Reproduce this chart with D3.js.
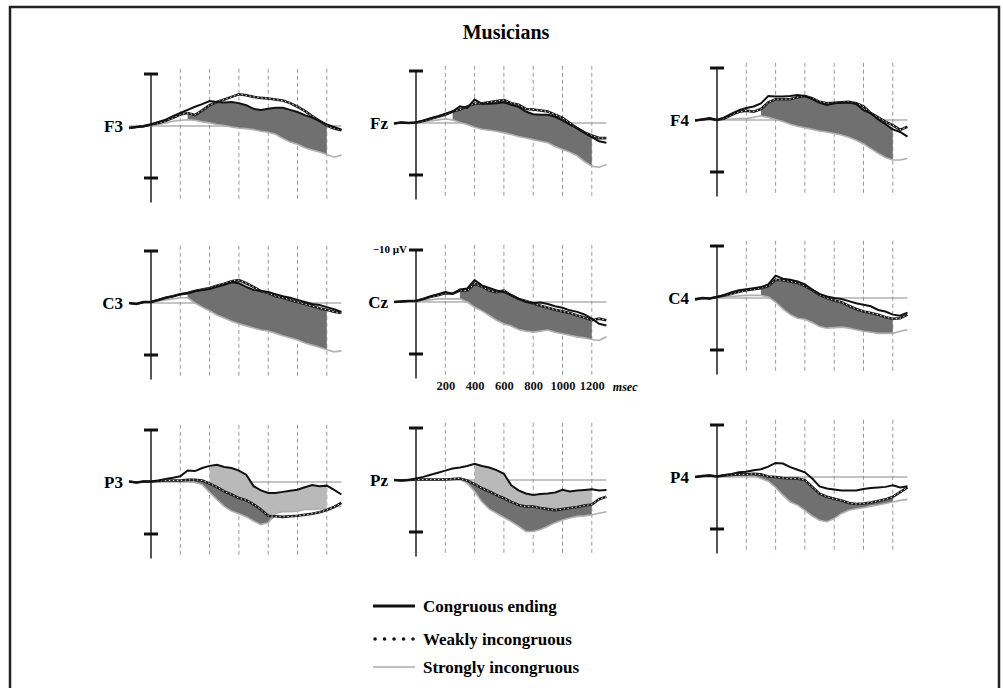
<!DOCTYPE html>
<html>
<head>
<meta charset="utf-8">
<script src="https://cdnjs.cloudflare.com/ajax/libs/d3/7.8.5/d3.min.js"></script>
<style>
  body { margin: 0; background: #fff; }
  svg { display: block; font-family: "Liberation Serif", "Times New Roman", serif; font-weight: bold; }
</style>
</head>
<body>
<div id="chart"></div>
<script>
// sample times (ms) and electrode order
var times = [-150, -100, -50, 0, 50, 100, 150, 200, 250, 300, 350, 400, 450, 500, 550, 600,
             650, 700, 750, 800, 850, 900, 950, 1000, 1050, 1100, 1150, 1200, 1250, 1300];
var electrodes = ["F3", "Fz", "F4", "C3", "Cz", "C4", "P3", "Pz", "P4"];

// amplitudes in microvolts (negative is drawn up)
var congF3 = [0.4, 0.2, 0.1, -0.3, -0.8, -1.2, -1.9, -2.5, -3.1, -3.7, -4.2, -4.8, -4.6, -4.5, -4.6, -4.4, -4.0, -3.3, -3.1, -3.3, -3.5, -3.5, -3.1, -2.7, -2.1, -1.6, -1.0, -0.3, 0.2, 0.7];
var weakF3 = [0.4, 0.2, 0.0, -0.3, -0.6, -1.0, -1.6, -2.2, -2.5, -2.1, -3.0, -4.0, -4.6, -5.1, -5.6, -6.1, -5.9, -5.6, -5.4, -5.3, -5.1, -4.9, -4.4, -3.7, -2.9, -1.9, -1.0, -0.1, 0.5, 0.8];
var strongF3 = [0.4, 0.2, 0.1, -0.1, -0.3, -0.6, -0.9, -1.1, -1.2, -1.1, -0.8, -0.6, -0.3, -0.1, 0.2, 0.4, 0.5, 0.7, 1.0, 1.2, 1.6, 2.4, 3.1, 3.5, 4.2, 4.6, 5.0, 5.5, 6.0, 5.6];

var congFz = [0.1, -0.1, 0.0, -0.1, -0.5, -0.9, -1.3, -1.8, -2.2, -3.2, -2.9, -4.5, -3.7, -3.7, -3.8, -4.0, -3.5, -3.1, -2.2, -1.7, -1.6, -1.6, -1.2, -0.5, 0.3, 1.0, 1.9, 2.7, 3.5, 3.8];
var weakFz = [0.1, -0.1, 0.0, -0.1, -0.4, -0.8, -1.2, -1.6, -2.2, -2.6, -3.2, -3.7, -3.8, -4.0, -4.2, -4.4, -3.8, -3.5, -2.7, -2.6, -2.4, -2.2, -1.6, -1.0, 0.0, 1.0, 1.8, 2.4, 2.9, 2.9];
var strongFz = [0.1, -0.1, 0.0, 0.0, -0.3, -0.4, -0.6, -0.8, -0.6, -0.1, 0.3, 0.8, 1.2, 1.4, 1.6, 1.9, 2.2, 2.6, 2.9, 3.2, 3.5, 3.8, 4.5, 5.1, 5.6, 6.3, 7.4, 8.3, 8.5, 8.0];

var congF4 = [0.1, -0.1, -0.3, 0.0, -0.5, -1.2, -1.9, -2.3, -2.6, -3.2, -4.6, -4.5, -4.5, -4.6, -4.8, -4.6, -4.0, -3.3, -2.9, -3.2, -3.3, -3.3, -3.1, -1.9, -1.3, -0.1, 0.8, 1.8, 2.3, 3.2];
var weakF4 = [0.1, -0.1, -0.3, 0.0, -0.3, -1.0, -1.6, -1.8, -1.6, -2.1, -3.4, -4.0, -4.0, -4.0, -4.4, -4.6, -4.2, -3.5, -3.2, -3.3, -3.4, -3.5, -3.2, -2.6, -1.3, -0.5, 0.3, 1.0, 1.9, 1.3];
var strongF4 = [0.1, -0.1, -0.1, 0.0, -0.1, -0.2, -0.3, -0.3, -0.5, -0.8, -0.5, -0.1, 0.3, 0.8, 1.2, 1.5, 1.8, 2.1, 2.3, 2.6, 2.9, 3.3, 3.9, 4.6, 5.5, 6.4, 7.2, 7.7, 7.7, 7.4];

var congC3 = [0.0, 0.2, -0.2, -0.2, -0.6, -1.0, -1.3, -1.7, -1.9, -2.3, -2.5, -2.7, -3.1, -3.5, -4.0, -3.8, -3.1, -2.5, -2.3, -2.1, -1.7, -1.3, -1.0, -0.6, -0.2, 0.2, 0.4, 0.8, 1.2, 1.7];
var weakC3 = [0.0, 0.2, -0.2, -0.2, -0.6, -1.0, -1.3, -1.7, -1.9, -2.3, -2.6, -2.9, -3.3, -3.7, -4.2, -4.4, -3.8, -3.1, -2.3, -1.9, -1.3, -1.0, -0.6, -0.2, 0.2, 0.6, 1.0, 1.3, 1.7, 1.9];
var strongC3 = [0.0, 0.2, -0.2, -0.2, -0.4, -0.6, -0.8, -1.0, -1.0, 0.0, 0.8, 1.5, 2.3, 2.9, 3.5, 4.0, 4.4, 4.8, 5.2, 5.4, 5.8, 6.3, 6.7, 7.1, 7.7, 8.1, 8.5, 9.0, 9.4, 9.2];

var congCz = [0.0, -0.1, -0.2, -0.2, -0.6, -1.1, -1.5, -1.9, -1.6, -2.4, -2.6, -4.2, -3.2, -2.7, -2.2, -1.9, -1.3, -0.6, 0.0, 0.2, 0.1, 0.4, 0.8, 1.1, 1.6, 1.9, 2.4, 3.2, 4.2, 4.5];
var weakCz = [0.0, -0.1, -0.2, -0.2, -0.6, -1.0, -1.3, -1.7, -1.6, -2.2, -2.2, -3.5, -3.0, -2.2, -1.9, -2.2, -1.3, -0.6, -0.2, 0.3, 0.7, 1.1, 1.5, 1.8, 2.1, 2.6, 3.0, 3.5, 3.2, 3.5];
var strongCz = [0.0, -0.1, -0.1, -0.1, -0.3, -0.4, -0.6, -0.6, -0.6, -0.6, 0.0, 1.0, 1.7, 2.6, 3.5, 4.2, 4.6, 5.3, 5.6, 5.8, 5.6, 5.4, 5.8, 6.1, 6.4, 6.7, 6.9, 7.2, 7.4, 6.7];

var congC4 = [0.3, 0.0, 0.1, -0.2, -0.6, -1.1, -1.5, -1.7, -1.9, -2.1, -2.6, -4.3, -3.7, -3.5, -3.2, -2.6, -1.6, -0.8, -0.3, 0.0, 0.2, 0.6, 1.0, 1.3, 1.6, 2.3, 2.6, 3.2, 3.4, 2.8];
var weakC4 = [0.3, 0.0, 0.1, -0.2, -0.5, -0.8, -1.2, -1.5, -1.7, -1.9, -2.3, -3.5, -3.4, -3.2, -2.9, -2.3, -1.5, -0.6, 0.0, 0.5, 0.8, 1.5, 2.1, 2.6, 2.9, 3.2, 3.7, 4.0, 3.9, 3.2];
var strongC4 = [0.3, 0.0, 0.1, -0.1, -0.3, -0.3, -0.4, -0.5, -0.5, -0.5, -0.2, 0.8, 2.1, 3.2, 3.9, 4.1, 4.7, 5.5, 5.8, 5.7, 5.6, 5.8, 6.1, 6.4, 6.6, 6.8, 6.8, 6.8, 6.4, 6.1];

var congP3 = [-0.1, 0.1, -0.1, -0.1, -0.3, -0.6, -0.8, -1.1, -2.2, -2.1, -2.7, -3.1, -3.3, -2.9, -2.7, -2.2, -1.4, 0.8, 1.6, 2.1, 2.1, 1.9, 1.7, 1.5, 1.0, 0.6, 0.8, 0.7, 1.5, 2.4];
var weakP3 = [-0.1, 0.1, -0.1, -0.1, -0.2, -0.3, -0.3, -0.3, -0.4, -0.4, -0.3, 0.3, 1.0, 1.8, 2.4, 3.1, 3.5, 4.3, 5.3, 6.5, 6.6, 6.7, 6.6, 6.5, 6.3, 6.1, 5.8, 5.4, 4.8, 4.0];
var strongP3 = [-0.1, 0.1, -0.1, -0.1, -0.2, -0.2, -0.2, -0.2, -0.1, 0.1, 0.5, 2.0, 3.4, 4.7, 5.6, 6.1, 6.7, 7.5, 8.2, 7.8, 6.0, 5.7, 5.7, 5.6, 5.3, 5.3, 5.2, 5.1, 4.8, 4.6];

var congPz = [0.0, 0.1, 0.0, -0.3, -0.6, -1.0, -1.4, -1.8, -2.2, -2.4, -2.7, -3.1, -2.7, -2.4, -1.9, -1.2, 1.0, 2.0, 2.6, 2.9, 2.7, 2.6, 2.4, 1.9, 2.2, 2.0, 1.9, 1.8, 2.0, 1.9];
var weakPz = [0.0, 0.1, 0.0, -0.1, -0.1, -0.1, -0.1, -0.1, -0.2, -0.3, 0.1, 0.8, 1.6, 2.2, 2.9, 3.5, 4.2, 4.8, 5.1, 5.1, 5.4, 5.6, 5.8, 5.6, 5.4, 5.2, 4.9, 4.7, 3.7, 3.2];
var strongPz = [0.0, 0.1, 0.0, -0.1, -0.1, -0.1, 0.0, 0.0, 0.0, -0.1, 0.6, 2.2, 4.2, 5.6, 6.4, 7.2, 8.0, 8.9, 9.9, 9.9, 9.5, 8.9, 8.2, 7.7, 7.3, 7.0, 6.9, 6.7, 6.4, 6.1];

var congP4 = [0.0, -0.2, -0.3, -0.1, -0.4, -0.6, -0.9, -1.0, -1.3, -1.5, -2.0, -2.7, -2.6, -1.9, -1.4, -0.9, 0.3, 1.8, 2.2, 2.4, 2.6, 2.6, 2.6, 2.3, 2.1, 2.0, 1.9, 1.6, 2.0, 1.8];
var weakP4 = [0.0, -0.2, -0.3, -0.1, -0.3, -0.4, -0.5, -0.5, -0.6, -0.5, -0.1, 0.0, 0.2, 0.3, 0.3, 0.6, 1.9, 3.2, 3.8, 4.2, 4.5, 5.0, 5.2, 5.1, 4.9, 4.6, 4.3, 3.8, 2.9, 2.0];
var strongP4 = [0.0, -0.2, -0.3, -0.1, -0.2, -0.3, -0.3, -0.3, -0.2, 0.3, 0.8, 2.0, 3.5, 4.8, 5.4, 6.4, 7.5, 8.3, 8.6, 8.0, 7.0, 6.4, 6.1, 5.9, 5.6, 5.4, 5.1, 4.8, 4.5, 4.3];

// shaded windows (ms), one per electrode; null = no shading
var darkStart = [250, 250, 300, 250, 300, 300, 300, 250, 250];
var lightStart = [null, null, null, null, null, null, 400, 400, null];
var fillEnd = 1200;

var timeTicks = [200, 400, 600, 800, 1000, 1200];
var legendLabels = ["Congruous ending", "Weakly incongruous", "Strongly incongruous"];

var series = {
  F3: [congF3, weakF3, strongF3], Fz: [congFz, weakFz, strongFz], F4: [congF4, weakF4, strongF4],
  C3: [congC3, weakC3, strongC3], Cz: [congCz, weakCz, strongCz], C4: [congC4, weakC4, strongC4],
  P3: [congP3, weakP3, strongP3], Pz: [congPz, weakPz, strongPz], P4: [congP4, weakP4, strongP4]
};

// layout
var W = 1003, H = 688;
var colX = [151, 416, 717];
var rowBase = [[126, 123, 120], [303, 302, 298], [482, 480, 477]];
var pxPerMs = 0.1465, pxPerUv = 5.2;

var svg = d3.select("#chart").append("svg")
  .attr("width", W)
  .attr("height", H);

svg.append("rect").attr("width", W).attr("height", H).attr("fill", "#fff");

// outer frame (bottom edge is cut off)
svg.append("rect")
  .attr("x", 10).attr("y", 7)
  .attr("width", 989).attr("height", 720)
  .attr("fill", "none")
  .attr("stroke", "#222")
  .attr("stroke-width", 2.5);

svg.append("text")
  .attr("x", 506).attr("y", 39)
  .attr("text-anchor", "middle")
  .style("font-size", "20px")
  .text("Musicians");

electrodes.forEach(function(name, i) {
  var r = Math.floor(i / 3), c = i % 3;
  var ax = colX[c], base = rowBase[r][c];

  var x = d3.scaleLinear().domain([0, 1200]).range([ax, ax + 1200 * pxPerMs]);
  var y = d3.scaleLinear().domain([0, 10]).range([base, base + 10 * pxPerUv]);

  var g = svg.append("g");
  var s = series[name];
  var rows = times.map(function(t, j) {
    return { t: t, c: s[0][j], w: s[1][j], s: s[2][j] };
  });

  // dashed time grid
  g.selectAll(".grid")
    .data(timeTicks)
    .enter().append("line")
    .attr("x1", function(d) { return x(d); })
    .attr("x2", function(d) { return x(d); })
    .attr("y1", y(-11)).attr("y2", y(14.6))
    .attr("stroke", "#9a9a9a")
    .attr("stroke-width", 1)
    .attr("stroke-dasharray", "4,3");

  // zero line
  g.append("line")
    .attr("x1", x(-150)).attr("x2", x(1300))
    .attr("y1", y(0)).attr("y2", y(0))
    .attr("stroke", "#8a8a8a")
    .attr("stroke-width", 1.2);

  // fills
  var dark = rows.filter(function(d) { return d.t >= darkStart[i] && d.t <= fillEnd; });
  g.append("path")
    .datum(dark)
    .attr("fill", "#707070")
    .attr("d", d3.area()
      .x(function(d) { return x(d.t); })
      .y0(function(d) { return y(Math.max(d.c, d.w)); })
      .y1(function(d) { return y(Math.max(d.s, d.c, d.w)); }));

  if (lightStart[i] !== null) {
    var light = rows.filter(function(d) { return d.t >= lightStart[i] && d.t <= fillEnd; });
    g.append("path")
      .datum(light)
      .attr("fill", "#b9b9b9")
      .attr("d", d3.area()
        .x(function(d) { return x(d.t); })
        .y0(function(d) { return y(d.c); })
        .y1(function(d) { return y(Math.max(d.c, Math.min(d.w, d.s))); }));
  }

  // vertical axis with ±10 µV ticks
  g.append("line")
    .attr("x1", ax).attr("x2", ax)
    .attr("y1", y(-10)).attr("y2", y(14.7))
    .attr("stroke", "#555")
    .attr("stroke-width", 2);

  g.selectAll(".tick")
    .data([-10, 10])
    .enter().append("line")
    .attr("x1", ax - 7).attr("x2", ax + 7)
    .attr("y1", function(d) { return y(d); })
    .attr("y2", function(d) { return y(d); })
    .attr("stroke", "#111")
    .attr("stroke-width", 3);

  var line = function(key) {
    return d3.line()
      .x(function(d) { return x(d.t); })
      .y(function(d) { return y(d[key]); });
  };

  g.append("path").datum(rows)
    .attr("fill", "none").attr("stroke", "#b0b0b0").attr("stroke-width", 1.6)
    .attr("d", line("s"));

  g.append("path").datum(rows)
    .attr("fill", "none").attr("stroke", "#1a1a1a").attr("stroke-width", 2.6)
    .attr("d", line("w"));
  g.append("path").datum(rows)
    .attr("fill", "none").attr("stroke", "#fff").attr("stroke-width", 0.9)
    .attr("stroke-dasharray", "1.5,2.5")
    .attr("d", line("w"));

  g.append("path").datum(rows)
    .attr("fill", "none").attr("stroke", "#111").attr("stroke-width", 2)
    .attr("d", line("c"));

  g.append("text")
    .attr("x", ax - 28).attr("y", base + 6)
    .attr("text-anchor", "end")
    .style("font-size", "17px")
    .text(name);

  // axis labels only on Cz
  if (name === "Cz") {
    var xAxis = g.append("g")
      .attr("transform", "translate(0," + (base + 79) + ")")
      .call(d3.axisBottom(x).tickValues(timeTicks).tickFormat(d3.format("d"))
        .tickSize(0).tickPadding(0));
    xAxis.select(".domain").remove();
    xAxis.selectAll("text")
      .style("font-family", "'Liberation Serif', serif")
      .style("font-weight", "bold")
      .style("font-size", "12.5px")
      .attr("fill", "#111");

    g.append("text")
      .attr("x", x(1200) + 21).attr("y", base + 89)
      .style("font-size", "12px")
      .style("font-style", "italic")
      .text("msec");

    g.append("text")
      .attr("x", ax - 9).attr("y", y(-10) + 3)
      .attr("text-anchor", "end")
      .style("font-size", "11px")
      .text("\u221210 \u00b5V");
  }
});

// legend
var legend = svg.append("g").attr("transform", "translate(373,606)");
legendLabels.forEach(function(label, k) {
  var ly = [0, 33, 61][k];
  var l = legend.append("line")
    .attr("x1", 0).attr("x2", 42)
    .attr("y1", ly).attr("y2", ly);
  if (k === 0) {
    l.attr("stroke", "#111").attr("stroke-width", 3);
  } else if (k === 1) {
    l.attr("x1", 2).attr("x2", 40)
      .attr("stroke", "#111").attr("stroke-width", 3.5)
      .attr("stroke-linecap", "round").attr("stroke-dasharray", "0.1,9.4");
  } else {
    l.attr("stroke", "#aaa").attr("stroke-width", 1.6);
  }
  legend.append("text")
    .attr("x", 50).attr("y", ly + 5.5)
    .style("font-size", "17px")
    .text(label);
});
</script>
</body>
</html>
